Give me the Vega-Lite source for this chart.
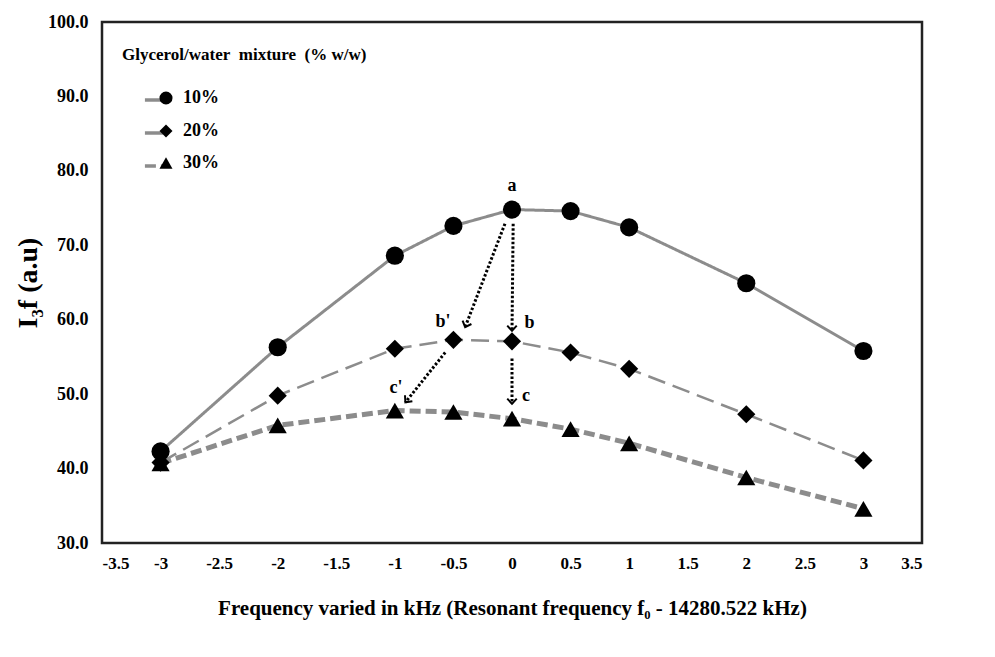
{
  "$schema": "https://vega.github.io/schema/vega-lite/v6.json",
  "width": 820,
  "height": 521,
  "autosize": "none",
  "padding": {"left": 102, "top": 22, "right": 73, "bottom": 114},
  "background": "white",
  "config": {
    "font": "Liberation Serif",
    "view": {"stroke": "#222", "strokeWidth": 2.5},
    "locale": {"number": {"decimal": ".", "thousands": ",", "grouping": [3], "currency": ["$", ""], "minus": "-"}}
  },
  "datasets": {
    "series": [
      {"f": -3, "I": 42.3, "mixture": "10%"},
      {"f": -2, "I": 56.3, "mixture": "10%"},
      {"f": -1, "I": 68.6, "mixture": "10%"},
      {"f": -0.5, "I": 72.6, "mixture": "10%"},
      {"f": 0, "I": 74.8, "mixture": "10%"},
      {"f": 0.5, "I": 74.6, "mixture": "10%"},
      {"f": 1, "I": 72.4, "mixture": "10%"},
      {"f": 2, "I": 64.9, "mixture": "10%"},
      {"f": 3, "I": 55.8, "mixture": "10%"},
      {"f": -3, "I": 40.8, "mixture": "20%"},
      {"f": -2, "I": 49.8, "mixture": "20%"},
      {"f": -1, "I": 56.1, "mixture": "20%"},
      {"f": -0.5, "I": 57.3, "mixture": "20%"},
      {"f": 0, "I": 57.1, "mixture": "20%"},
      {"f": 0.5, "I": 55.6, "mixture": "20%"},
      {"f": 1, "I": 53.4, "mixture": "20%"},
      {"f": 2, "I": 47.3, "mixture": "20%"},
      {"f": 3, "I": 41.1, "mixture": "20%"},
      {"f": -3, "I": 40.7, "mixture": "30%"},
      {"f": -2, "I": 45.8, "mixture": "30%"},
      {"f": -1, "I": 47.8, "mixture": "30%"},
      {"f": -0.5, "I": 47.6, "mixture": "30%"},
      {"f": 0, "I": 46.7, "mixture": "30%"},
      {"f": 0.5, "I": 45.3, "mixture": "30%"},
      {"f": 1, "I": 43.4, "mixture": "30%"},
      {"f": 2, "I": 38.8, "mixture": "30%"},
      {"f": 3, "I": 34.6, "mixture": "30%"}
    ],
    "arrows": [
      {"id": "ab1", "x": -0.06, "y": 72.9, "x2": -0.40, "y2": 59.0},
      {"id": "ab", "x": 0.01, "y": 72.9, "x2": 0.0, "y2": 58.5},
      {"id": "bc1", "x": -0.57, "y": 55.6, "x2": -0.91, "y2": 48.9},
      {"id": "bc", "x": 0.0, "y": 54.8, "x2": 0.0, "y2": 48.7}
    ],
    "labels": [
      {"t": "a", "x": 0.0, "y": 78.0},
      {"t": "b'", "x": -0.59, "y": 59.7},
      {"t": "b", "x": 0.15, "y": 59.5},
      {"t": "c'", "x": -0.99, "y": 50.8},
      {"t": "c", "x": 0.12, "y": 49.7}
    ]
  },
  "encoding": {
    "x": {
      "field": "f", "type": "quantitative",
      "scale": {"domain": [-3.5, 3.5], "nice": false, "zero": false},
      "axis": {
        "values": [-3.5, -3, -2.5, -2, -1.5, -1, -0.5, 0, 0.5, 1, 1.5, 2, 2.5, 3, 3.5],
        "format": "~g", "grid": false, "ticks": false, "domain": false,
        "labelFontSize": 17, "labelFontWeight": "bold", "labelColor": "black", "labelPadding": 12,
        "title": "Frequency varied in kHz (Resonant frequency f₀ - 14280.522 kHz)",
        "titleFontSize": 21, "titleFontWeight": "bold", "titleColor": "black", "titlePadding": 26
      }
    },
    "y": {
      "field": "I", "type": "quantitative",
      "scale": {"domain": [30, 100], "nice": false, "zero": false},
      "axis": {
        "values": [30, 40, 50, 60, 70, 80, 90, 100],
        "format": ".1f", "grid": false, "ticks": false, "domain": false,
        "labelFontSize": 18, "labelFontWeight": "bold", "labelColor": "black", "labelPadding": 14,
        "title": "I₃f (a.u)",
        "titleFontSize": 28, "titleFontWeight": "bold", "titleColor": "black", "titlePadding": 5
      }
    }
  },
  "layer": [
    {
      "data": {"name": "series"},
      "transform": [{"filter": "datum.mixture == '10%'"}],
      "mark": {"type": "line", "color": "#8c8c8c", "strokeWidth": 3},
      "encoding": {
        "strokeDash": {
          "field": "mixture", "type": "nominal",
          "scale": {"domain": ["10%", "20%", "30%"], "range": [[1, 0], [18, 8], [11, 5]]},
          "legend": {
            "orient": "none", "legendX": 20, "legendY": 67, "padding": 0,
            "title": null,
            "labelExpr": "''", "labelFontSize": 18, "labelFontWeight": "bold", "labelOffset": 8,
            "symbolType": "stroke", "symbolSize": 1444, "symbolStrokeColor": "#8c8c8c", "symbolStrokeWidth": 3.5, "symbolOffset": 21,
            "rowPadding": 13
          }
        }
      }
    },
    {
      "data": {"name": "series"},
      "transform": [{"filter": "datum.mixture == '20%'"}],
      "mark": {"type": "line", "color": "#8c8c8c", "strokeWidth": 2.5},
      "encoding": {
        "strokeDash": {"field": "mixture", "type": "nominal"}
      }
    },
    {
      "data": {"name": "series"},
      "transform": [{"filter": "datum.mixture == '30%'"}],
      "mark": {"type": "line", "color": "#8c8c8c", "strokeWidth": 5},
      "encoding": {
        "strokeDash": {"field": "mixture", "type": "nominal"}
      }
    },
    {
      "data": {"name": "series"},
      "mark": {"type": "point", "filled": true, "color": "black", "opacity": 1},
      "encoding": {
        "shape": {
          "field": "mixture", "type": "nominal",
          "scale": {"range": ["circle", "diamond", "triangle-up"]},
          "legend": {
            "orient": "none", "legendX": 20, "legendY": 25, "padding": 0,
            "title": "Glycerol/water\u00a0\u00a0mixture\u00a0\u00a0(% w/w)", "titleColor": "black", "titleLimit": 500,
            "titleFontSize": 17, "titleFontWeight": "bold", "titlePadding": 25,
            "labelColor": "black", "labelFontSize": 18, "labelFontWeight": "bold", "labelOffset": 8,
            "symbolSize": 170, "symbolFillColor": "black", "symbolStrokeColor": "black", "symbolOffset": 35,
            "rowPadding": 13
          }
        },
        "size": {
          "field": "mixture", "type": "nominal",
          "scale": {"domain": ["10%", "20%", "30%"], "range": [330, 330, 300]},
          "legend": null
        }
      }
    },
    {
      "data": {"name": "arrows"},
      "mark": {"type": "rule", "color": "black", "strokeWidth": 3, "strokeDash": [2.5, 2]},
      "encoding": {
        "x": {"field": "x", "type": "quantitative"},
        "y": {"field": "y", "type": "quantitative"},
        "x2": {"field": "x2"},
        "y2": {"field": "y2"}
      }
    },
    {
      "data": {"name": "arrows"},
      "transform": [{"filter": "datum.id == 'ab' || datum.id == 'bc'"}],
      "mark": {"type": "point", "shape": "M -1 -1.1 L 0 0 L 1 -1.1", "filled": false, "color": "black", "strokeWidth": 2, "size": 90, "angle": 0, "opacity": 1},
      "encoding": {
        "x": {"field": "x2", "type": "quantitative"},
        "y": {"field": "y2", "type": "quantitative"}
      }
    },
    {
      "data": {"name": "arrows"},
      "transform": [{"filter": "datum.id == 'ab1'"}],
      "mark": {"type": "point", "shape": "M -1 -1.1 L 0 0 L 1 -1.1", "filled": false, "color": "black", "strokeWidth": 2, "size": 90, "angle": 21, "opacity": 1},
      "encoding": {
        "x": {"field": "x2", "type": "quantitative"},
        "y": {"field": "y2", "type": "quantitative"}
      }
    },
    {
      "data": {"name": "arrows"},
      "transform": [{"filter": "datum.id == 'bc1'"}],
      "mark": {"type": "point", "shape": "M -1 -1.1 L 0 0 L 1 -1.1", "filled": false, "color": "black", "strokeWidth": 2, "size": 90, "angle": 39, "opacity": 1},
      "encoding": {
        "x": {"field": "x2", "type": "quantitative"},
        "y": {"field": "y2", "type": "quantitative"}
      }
    },
    {
      "data": {"name": "labels"},
      "mark": {"type": "text", "fontSize": 18, "fontWeight": "bold", "color": "black", "baseline": "middle", "align": "center"},
      "encoding": {
        "x": {"field": "x", "type": "quantitative"},
        "y": {"field": "y", "type": "quantitative"},
        "text": {"field": "t"}
      }
    }
  ]
}
